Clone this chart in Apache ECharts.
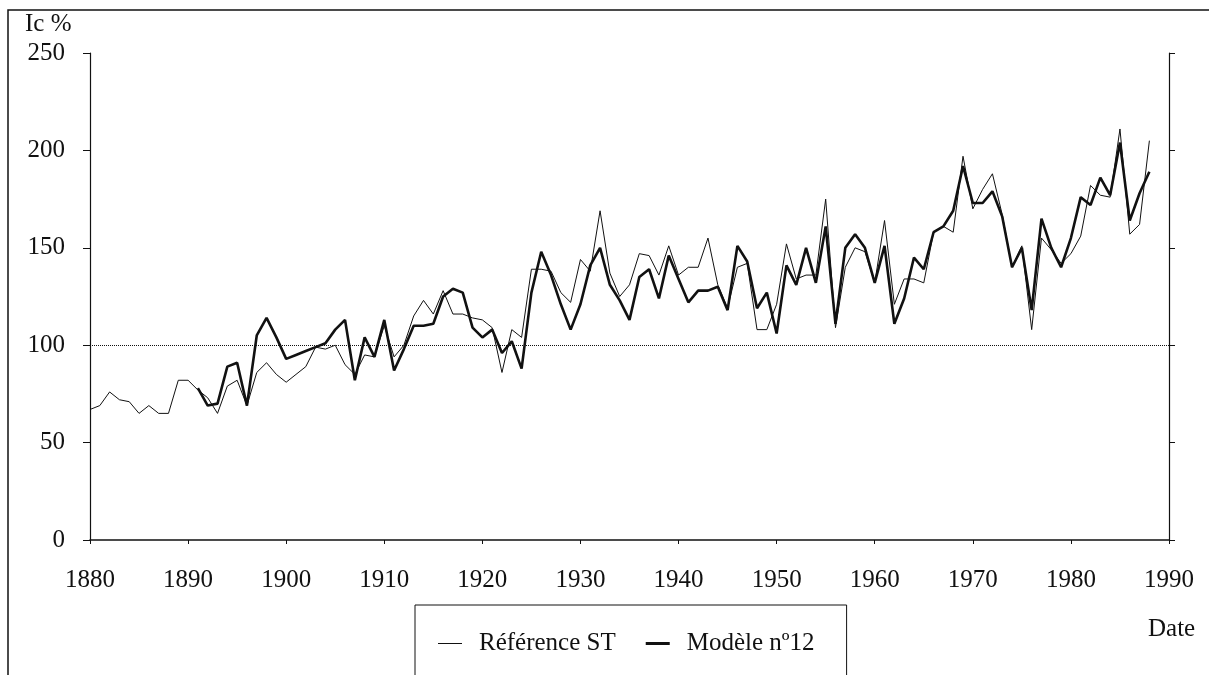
<!DOCTYPE html>
<html>
<head>
<meta charset="utf-8">
<script src="https://cdn.jsdelivr.net/npm/echarts@6/dist/echarts.min.js"></script>
<style>
html,body{margin:0;padding:0;background:#fff;}
#chart{width:1209px;height:675px;}
</style>
</head>
<body>
<div id="chart"></div>
<script>
// ---- data ----
const refStartYear = 1880;
const refValues = [
  67, 69, 76, 72, 71, 65, 69, 65, 65, 82,      // 1880-1889
  82, 77, 73, 65, 79, 82, 69, 86, 91, 85,      // 1890-1899
  81, 85, 89, 99, 98, 100, 90, 85, 95, 94,     // 1900-1909
  110, 94, 100, 115, 123, 116, 128, 116, 116, 114, // 1910-1919
  113, 109, 86, 108, 104, 139, 139, 138, 127, 122, // 1920-1929
  144, 138, 169, 137, 125, 131, 147, 146, 136, 151, // 1930-1939
  136, 140, 140, 155, 131, 119, 140, 142, 108, 108, // 1940-1949
  121, 152, 134, 136, 136, 175, 109, 140, 150, 148, // 1950-1959
  132, 164, 121, 134, 134, 132, 158, 161, 158, 197, // 1960-1969
  170, 180, 188, 167, 140, 151, 108, 155, 149, 142, // 1970-1979
  147, 156, 182, 177, 176, 211, 157, 162, 205       // 1980-1988
];
const modelStartYear = 1891;
const modelValues = [
  78, 69, 70, 89, 91, 69, 105, 114, 104,          // 1891-1899
  93, 95, 97, 99, 101, 108, 113, 82, 104, 94,     // 1900-1909
  113, 87, 98, 110, 110, 111, 125, 129, 127, 109, // 1910-1919
  104, 108, 96, 102, 88, 127, 148, 136, 121, 108, // 1920-1929
  121, 141, 150, 131, 123, 113, 135, 139, 124, 146, // 1930-1939
  134, 122, 128, 128, 130, 118, 151, 143, 119, 127, // 1940-1949
  106, 141, 131, 150, 132, 161, 111, 150, 157, 150, // 1950-1959
  132, 151, 111, 124, 145, 139, 158, 161, 169, 192, // 1960-1969
  173, 173, 179, 166, 140, 150, 118, 165, 150, 140, // 1970-1979
  155, 176, 172, 186, 177, 204, 164, 178, 189       // 1980-1988
];
const xTicks = [1880, 1890, 1900, 1910, 1920, 1930, 1940, 1950, 1960, 1970, 1980, 1990];
const yTicks = [0, 50, 100, 150, 200, 250];
const seriesNames = ['Référence ST', 'Modèle nº12'];
const yTitle = 'Ic %';
const xTitle = 'Date';
const refLine = 100;

// ---- build ----
const refData = refValues.map((v, i) => [refStartYear + i, v]);
const modelData = modelValues.map((v, i) => [modelStartYear + i, v]);

const FONT = "'Liberation Serif', 'DejaVu Serif', serif";
const INK = '#111';

const chart = echarts.init(document.getElementById('chart'), null, {renderer: 'canvas'});
chart.setOption({
  backgroundColor: '#fff',
  animation: false,
  grid: {left: 90, right: 40, top: 53, bottom: 135, containLabel: false},
  xAxis: {
    type: 'value',
    min: xTicks[0], max: xTicks[xTicks.length - 1], interval: 10,
    axisLine: {lineStyle: {color: INK, width: 1.5}},
    axisTick: {inside: false, length: 4, lineStyle: {color: INK, width: 1}},
    axisLabel: {color: INK, fontFamily: FONT, fontSize: 25, margin: 28,
                formatter: v => String(v)},
    splitLine: {show: false}
  },
  yAxis: [{
    type: 'value', position: 'left',
    min: yTicks[0], max: yTicks[yTicks.length - 1], interval: 50,
    axisLine: {show: true, lineStyle: {color: INK, width: 1.2}},
    axisTick: {show: true, inside: false, length: 7, lineStyle: {color: INK, width: 1}},
    axisLabel: {color: INK, fontFamily: FONT, fontSize: 25, margin: 25},
    splitLine: {show: false}
  }, {
    type: 'value', position: 'right',
    min: yTicks[0], max: yTicks[yTicks.length - 1], interval: 50,
    axisLine: {show: true, lineStyle: {color: INK, width: 1.2}},
    axisTick: {show: true, inside: false, length: 6, lineStyle: {color: INK, width: 1}},
    axisLabel: {show: false},
    splitLine: {show: false}
  }],
  legend: {
    left: 415, top: 605,
    orient: 'horizontal',
    padding: [26, 32, 40, 23],
    borderColor: INK, borderWidth: 1,
    itemWidth: 24, itemHeight: 14, itemGap: 30,
    textStyle: {color: INK, fontFamily: FONT, fontSize: 25, padding: [0, 0, 0, 12]},
    data: [
      {name: seriesNames[0], icon: 'path://M0,0 H24 V1 H0 Z', itemStyle: {color: INK}},
      {name: seriesNames[1], icon: 'path://M0,0 H24 V3 H0 Z', itemStyle: {color: INK}}
    ]
  },
  graphic: [
    {type: 'polyline', silent: true, shape: {points: [[8, 675], [8, 10], [1209, 10]]},
     style: {stroke: INK, lineWidth: 1.5, fill: null}},
    {type: 'text', left: 25, top: 12, silent: true,
     style: {text: yTitle, fill: INK, font: "25px 'Liberation Serif', serif"}},
    {type: 'text', left: 1148, top: 617, silent: true,
     style: {text: xTitle, fill: INK, font: "25px 'Liberation Serif', serif"}}
  ],
  series: [{
    name: seriesNames[0], type: 'line', data: refData,
    symbol: 'none', showSymbol: false,
    lineStyle: {color: INK, width: 1},
    itemStyle: {color: INK},
    z: 2,
    markLine: {
      silent: true, symbol: 'none',
      label: {show: false},
      lineStyle: {color: INK, type: 'dotted', width: 1},
      data: [{yAxis: refLine}]
    }
  }, {
    name: seriesNames[1], type: 'line', data: modelData,
    symbol: 'none', showSymbol: false,
    lineStyle: {color: INK, width: 2.6},
    itemStyle: {color: INK},
    z: 3
  }]
});
</script>
</body>
</html>
